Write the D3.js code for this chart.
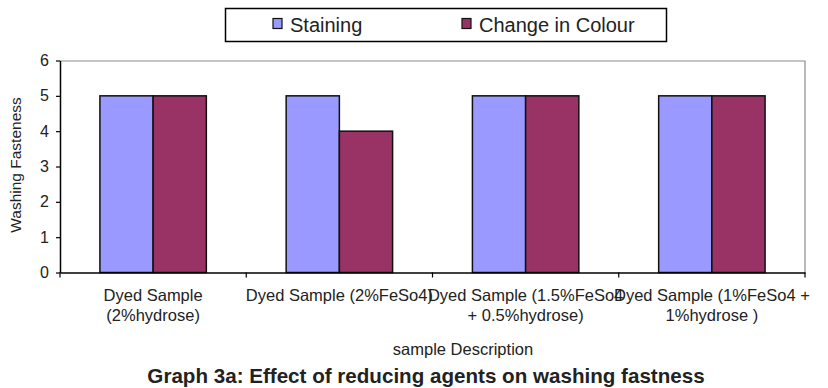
<!DOCTYPE html>
<html>
<head>
<meta charset="utf-8">
<script src="https://cdn.jsdelivr.net/npm/d3@7"></script>
<style>
  body { margin: 0; background: #fff; }
  text { font-family: Arial, "Liberation Sans", sans-serif; }
</style>
</head>
<body>
<script>
// data
var categories = ["Dyed Sample (2%hydrose)", "Dyed Sample (2%FeSo4)",
                  "Dyed Sample (1.5%FeSo4 + 0.5%hydrose)", "Dyed Sample (1%FeSo4 + 1%hydrose )"];
var categoryLines = [["Dyed Sample", "(2%hydrose)"],
                     ["Dyed Sample (2%FeSo4)"],
                     ["Dyed Sample (1.5%FeSo4", "+ 0.5%hydrose)"],
                     ["Dyed Sample (1%FeSo4 +", "1%hydrose )"]];
var seriesNames = ["Staining", "Change in Colour"];
var staining = [5, 5, 5, 5];
var changeInColour = [5, 4, 5, 5];
var yTicks = [0, 1, 2, 3, 4, 5, 6];

var colors = ["#9999ff", "#993366"];

var W = 828, H = 388;
var margin = {top: 60.5, right: 23, bottom: 115.5, left: 60};
var width = W - margin.left - margin.right,
    height = H - margin.top - margin.bottom;

var svg = d3.select("body").append("svg")
    .attr("width", W)
    .attr("height", H);

var chart = svg.append("g")
    .attr("transform", `translate(${margin.left},${margin.top})`);

var rows = categories.map((c, i) => ({cat: c, vals: [staining[i], changeInColour[i]]}));

var x0 = d3.scaleBand().domain(categories).range([0, width]).padding(0);
var x1 = d3.scaleBand().domain(seriesNames).range([0, x0.bandwidth()])
    .paddingInner(0).paddingOuter(0.75);
var y = d3.scaleLinear().domain([0, 6]).range([height, 0]);

// plot frame (gray top/right)
chart.append("path")
    .attr("d", `M0,0.5H${width}V${height}`)
    .attr("fill", "none")
    .attr("stroke", "#8c8c8c")
    .attr("stroke-width", 1.2);

// bars
var groups = chart.selectAll(".grp")
    .data(rows)
    .enter().append("g")
    .attr("transform", d => `translate(${x0(d.cat)},0)`);

groups.selectAll("rect")
    .data(d => d.vals.map((v, k) => ({name: seriesNames[k], v: v, k: k})))
    .enter().append("rect")
    .attr("x", d => x1(d.name))
    .attr("y", d => y(d.v))
    .attr("width", x1.bandwidth())
    .attr("height", d => height - y(d.v))
    .attr("fill", d => colors[d.k])
    .attr("stroke", "#111")
    .attr("stroke-width", 1.5);

// y axis
var yAxis = chart.append("g")
    .call(d3.axisLeft(y).tickValues(yTicks).tickFormat(d3.format("d"))
        .tickSize(4).tickSizeOuter(0).tickPadding(7));
yAxis.select(".domain").attr("stroke", "#000").attr("stroke-width", 1.5);
yAxis.selectAll(".tick line").attr("stroke", "#000").attr("stroke-width", 1.2);
yAxis.selectAll(".tick text").attr("font-size", 16).attr("font-family", "Arial").attr("fill", "#222");

// x axis
var xAxis = chart.append("g")
    .attr("transform", `translate(0,${height})`)
    .call(d3.axisBottom(x0).tickValues([]).tickSizeOuter(0));
xAxis.select(".domain").attr("stroke", "#000").attr("stroke-width", 1.5);
xAxis.selectAll(".sep")
    .data(categories.concat(["end"]))
    .enter().append("line")
    .attr("x1", (d, i) => i < categories.length ? x0(d) : width)
    .attr("x2", (d, i) => i < categories.length ? x0(d) : width)
    .attr("y1", 0).attr("y2", 5)
    .attr("stroke", "#000").attr("stroke-width", 1.2);

var labels = xAxis.selectAll(".lbl")
    .data(categoryLines)
    .enter().append("text")
    .attr("text-anchor", "middle")
    .attr("font-size", 16.5)
    .attr("fill", "#222")
    .attr("x", (d, i) => x0(categories[i]) + x0.bandwidth() / 2);
labels.selectAll("tspan")
    .data(d => d)
    .enter().append("tspan")
    .attr("x", function() { return d3.select(this.parentNode).attr("x"); })
    .attr("y", (d, i) => 28 + i * 20)
    .text(d => d);

// axis titles
svg.append("text")
    .attr("transform", `translate(21,165) rotate(-90)`)
    .attr("text-anchor", "middle")
    .attr("font-size", 15.5)
    .attr("fill", "#222")
    .text("Washing Fasteness");

svg.append("text")
    .attr("x", 463).attr("y", 355)
    .attr("text-anchor", "middle")
    .attr("font-size", 16.5)
    .attr("fill", "#222")
    .text("sample Description");

// caption
svg.append("text")
    .attr("x", 426).attr("y", 383)
    .attr("text-anchor", "middle")
    .attr("font-size", 20.6)
    .attr("font-weight", "bold")
    .attr("fill", "#222")
    .text("Graph 3a: Effect of reducing agents on washing fastness");

// legend
var legend = svg.append("g");
legend.append("rect")
    .attr("x", 225.5).attr("y", 8.5)
    .attr("width", 441).attr("height", 33)
    .attr("fill", "#fff").attr("stroke", "#000").attr("stroke-width", 1.5);
var legendX = [273, 462];
var items = legend.selectAll(".item")
    .data(seriesNames)
    .enter().append("g")
    .attr("transform", (d, i) => `translate(${legendX[i]},0)`);
items.append("rect")
    .attr("x", 0).attr("y", 18.5)
    .attr("width", 9).attr("height", 10)
    .attr("fill", (d, i) => colors[i])
    .attr("stroke", "#111").attr("stroke-width", 1.2);
items.append("text")
    .attr("x", 17).attr("y", 32)
    .attr("font-size", 20)
    .attr("fill", "#222")
    .text(d => d);
</script>
</body>
</html>
